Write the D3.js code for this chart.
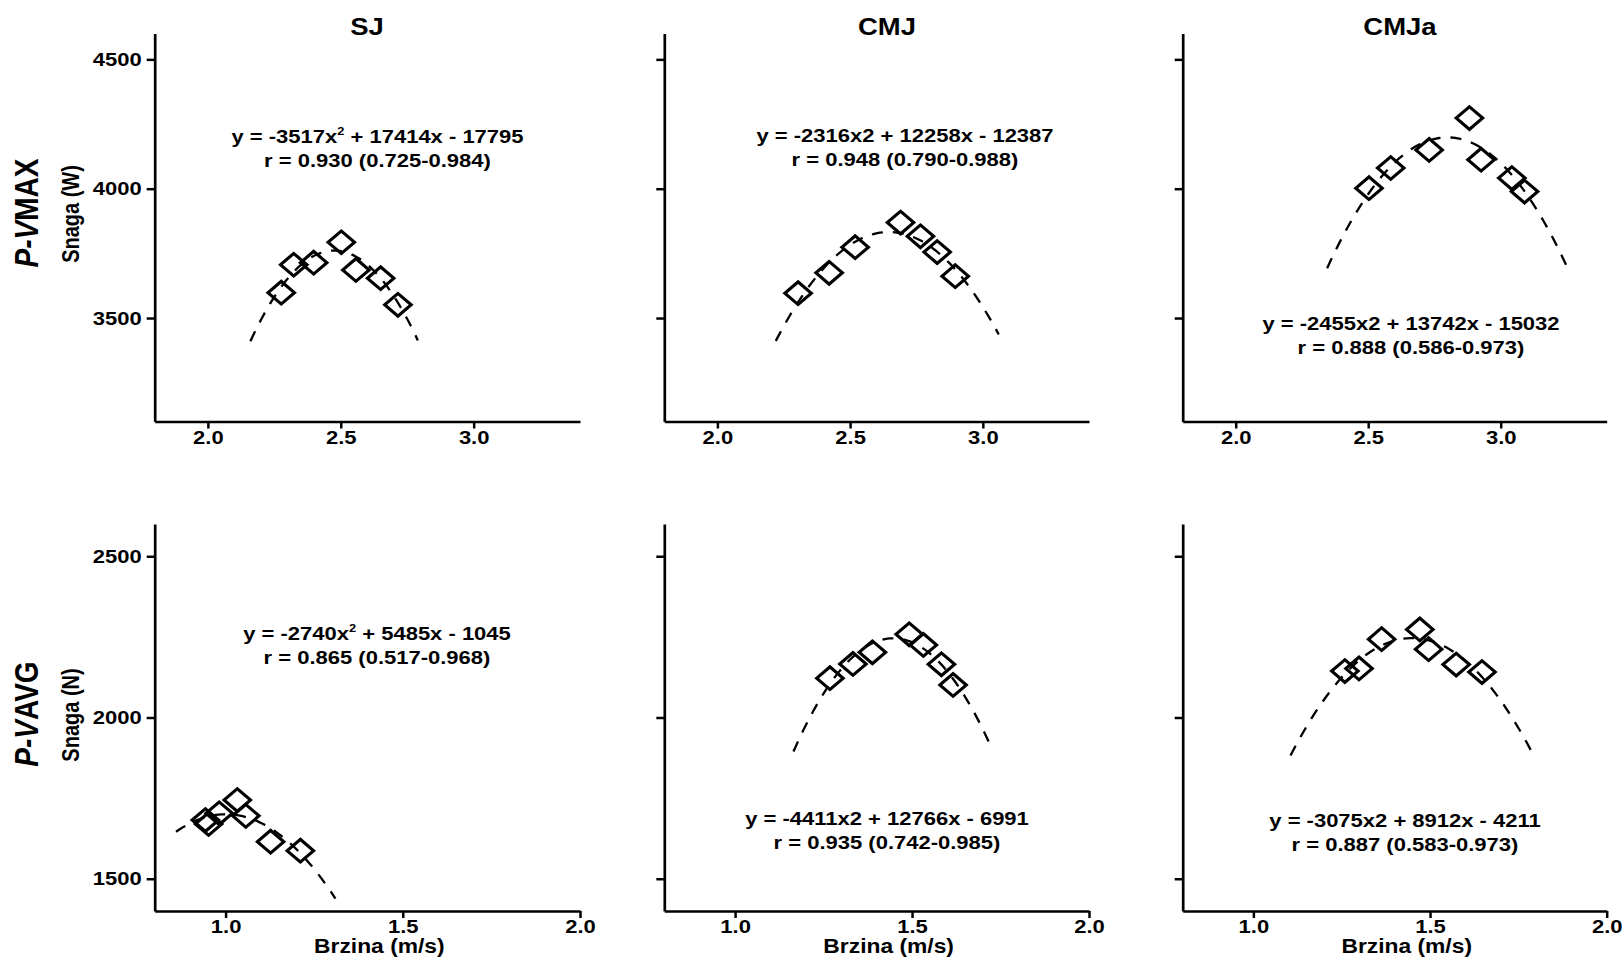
<!DOCTYPE html>
<html>
<head>
<meta charset="utf-8">
<script src="https://cdn.jsdelivr.net/npm/d3@7"></script>
<style>
  body { margin: 0; background: #fff; }
  text { font-family: "Liberation Sans", Arial, sans-serif; fill: #000; }
</style>
</head>
<body>
<svg id="chart" width="1623" height="963"></svg>
<script>
// ---------------- DATA ----------------
const tests = ["SJ", "CMJ", "CMJa"];
const rowTags = ["MAX", "AVG"];
const rowUnits = ["Snaga (W)", "Snaga (N)"];
const xAxisTitle = "Brzina (m/s)";

const xDomainMax = [1.8, 3.4];
const xDomainAvg = [0.8, 2.0];
const yDomainMax = [3100, 4600];
const yDomainAvg = [1400, 2600];
const xTicksMax = [2.0, 2.5, 3.0];
const xTicksAvg = [1.0, 1.5, 2.0];
const yTicksMax = [3500, 4000, 4500];
const yTicksAvg = [1500, 2000, 2500];

// P-V MAX : velocity (m/s) and power (W)
const maxSJ_v   = [2.276, 2.323, 2.398, 2.502, 2.557, 2.650, 2.715];
const maxSJ_p   = [3598, 3706, 3714, 3793, 3686, 3654, 3551];
const maxCMJ_v  = [2.304, 2.421, 2.519, 2.690, 2.765, 2.828, 2.896];
const maxCMJ_p  = [3596, 3675, 3774, 3869, 3816, 3755, 3662];
const maxCMJa_v = [2.503, 2.585, 2.730, 2.882, 2.926, 3.042, 3.090];
const maxCMJa_p = [4002, 4080, 4150, 4273, 4112, 4041, 3989];

// P-V AVG : velocity (m/s) and force (N)
const avgSJ_v   = [0.943, 0.952, 0.982, 1.033, 1.057, 1.127, 1.211];
const avgSJ_p   = [1682, 1670, 1703, 1744, 1695, 1615, 1587];
const avgCMJ_v  = [1.268, 1.333, 1.388, 1.492, 1.532, 1.583, 1.616];
const avgCMJ_p  = [2122, 2166, 2202, 2258, 2225, 2165, 2101];
const avgCMJa_v = [1.259, 1.299, 1.363, 1.471, 1.496, 1.574, 1.647];
const avgCMJa_p = [2144, 2152, 2243, 2273, 2212, 2164, 2141];

// quadratic fits shown in the chart: y = a x^2 + b x + c
const fitA = [[-3517, -2316, -2455], [-2740, -4411, -3075]];
const fitB = [[17414, 12258, 13742], [5485, 12766, 8912]];
const fitC = [[-17795, -12387, -15032], [-1045, -6991, -4211]];
const fitSuperscript = [[true, false, false], [true, false, false]];
// x-range over which each fitted curve is drawn
const fitRange = [[[2.16, 2.79], [2.22, 3.06], [2.345, 3.25]],
                  [[0.86, 1.31], [1.165, 1.725], [1.105, 1.785]]];
const rText = [["r = 0.930 (0.725-0.984)", "r = 0.948 (0.790-0.988)", "r = 0.888 (0.586-0.973)"],
               ["r = 0.865 (0.517-0.968)", "r = 0.935 (0.742-0.985)", "r = 0.887 (0.583-0.973)"]];

const pointsV = [[maxSJ_v, maxCMJ_v, maxCMJa_v], [avgSJ_v, avgCMJ_v, avgCMJa_v]];
const pointsP = [[maxSJ_p, maxCMJ_p, maxCMJa_p], [avgSJ_p, avgCMJ_p, avgCMJa_p]];

// ---------------- LAYOUT ----------------
const SX = 1.17;                       // horizontal stretch of the original figure
const colX = [[154.7, 580], [664.3, 1089], [1182.7, 1606.7]];
const rowY = [[33.5, 421.5], [524, 911]];
const titleX = [367, 887, 1400];
const eqPos = [[[377.5, 143], [905, 142], [1411, 330]],
               [[377, 640], [887, 825], [1405, 827]]];

const svg = d3.select("#chart");
svg.append("rect").attr("width", 1623).attr("height", 963).attr("fill", "#fff");

function stretchText(sel, x, y, extra) {
  return sel.attr("transform", `translate(${x},${y}) scale(${SX},1)` + (extra || ""));
}

// column titles
tests.forEach((t, c) => {
  stretchText(svg.append("text"), titleX[c], 35)
    .attr("text-anchor", "middle").attr("font-weight", "bold")
    .attr("font-size", 23.5).text(t);
});

// row labels
rowTags.forEach((tag, r) => {
  const cy = r === 0 ? 213 : 714;
  const t = stretchText(svg.append("text"), 38, cy, " rotate(-90)")
    .attr("text-anchor", "middle").attr("font-weight", "bold").attr("font-size", 28);
  t.append("tspan").attr("font-style", "italic").text("P-V");
  t.append("tspan").text(tag);
  stretchText(svg.append("text"), 79, cy + 1, " rotate(-90)")
    .attr("text-anchor", "middle").attr("font-weight", "bold").attr("font-size", 20)
    .text(rowUnits[r]);
});

const fmtCoef = v => String(Math.abs(v));

for (let r = 0; r < 2; r++) {
  for (let c = 0; c < 3; c++) {
    const x = d3.scaleLinear().domain(r === 0 ? xDomainMax : xDomainAvg).range(colX[c]);
    const y = d3.scaleLinear().domain(r === 0 ? yDomainMax : yDomainAvg).range([rowY[r][1], rowY[r][0]]);
    const g = svg.append("g");

    // axes
    const yAxis = d3.axisLeft(y).tickValues(r === 0 ? yTicksMax : yTicksAvg)
      .tickSize(8).tickSizeOuter(0).tickFormat(d3.format("d"));
    const ya = g.append("g").attr("transform", `translate(${colX[c][0]},0)`).call(yAxis);
    const xAxis = d3.axisBottom(x).tickValues(r === 0 ? xTicksMax : xTicksAvg)
      .tickSize(7).tickSizeOuter(0).tickFormat(d3.format(".1f"));
    const xa = g.append("g").attr("transform", `translate(0,${rowY[r][1]})`).call(xAxis);

    [ya, xa].forEach(a => {
      a.select(".domain").attr("stroke", "#000").attr("stroke-width", 2.7);
      a.selectAll(".tick line").attr("stroke", "#000").attr("stroke-width", 2.5);
      a.selectAll(".tick text").attr("font-size", 18.8).attr("font-weight", "bold")
        .attr("font-family", "'Liberation Sans', Arial, sans-serif").attr("fill", "#000");
    });
    ya.selectAll(".tick text").attr("x", null).attr("transform", `translate(-13,0) scale(${SX},1)`);
    if (c > 0) ya.selectAll(".tick text").remove();
    xa.selectAll(".tick text").attr("y", null).attr("transform", `translate(0,9) scale(${SX},1)`);

    // fitted curve (from the equation printed on the chart)
    const a = fitA[r][c], b = fitB[r][c], cc = fitC[r][c];
    const [x0, x1] = fitRange[r][c];
    const xs = d3.range(0, 61).map(i => x0 + (x1 - x0) * i / 60);
    const line = d3.line().x(d => x(d)).y(d => y(a * d * d + b * d + cc));
    g.append("path").datum(xs).attr("d", line).attr("fill", "none")
      .attr("stroke", "#000").attr("stroke-width", 2.3).attr("stroke-dasharray", "11,10");

    // diamonds
    const sym = d3.symbol().type(d3.symbolSquare).size(256);
    const pts = pointsV[r][c].map((v, i) => [v, pointsP[r][c][i]]);
    g.selectAll("path.pt").data(pts).join("path").attr("class", "pt")
      .attr("d", sym())
      .attr("transform", d => `translate(${x(d[0])},${y(d[1])}) scale(${SX},1) rotate(45)`)
      .attr("fill", "none").attr("stroke", "#000").attr("stroke-width", 2.9);

    // equation text
    const [ex, ey] = eqPos[r][c];
    const eq = stretchText(g.append("text"), ex, ey)
      .attr("text-anchor", "middle").attr("font-weight", "bold").attr("font-size", 18.8);
    eq.append("tspan").text(`y = -${fmtCoef(a)}x`);
    if (fitSuperscript[r][c]) {
      eq.append("tspan").attr("font-size", 11).attr("dy", -8).text("2");
      eq.append("tspan").attr("dy", 8).text(` + ${fmtCoef(b)}x - ${fmtCoef(cc)}`);
    } else {
      eq.append("tspan").text(`2 + ${fmtCoef(b)}x - ${fmtCoef(cc)}`);
    }
    stretchText(g.append("text"), ex, ey + 23.5)
      .attr("text-anchor", "middle").attr("font-weight", "bold").attr("font-size", 18.8)
      .text(rText[r][c]);

    // x axis title (bottom row)
    if (r === 1) {
      stretchText(g.append("text"), (colX[c][0] + colX[c][1]) / 2 + 12, 953)
        .attr("text-anchor", "middle").attr("font-weight", "bold").attr("font-size", 19.5)
        .text(xAxisTitle);
    }
  }
}
</script>
</body>
</html>
